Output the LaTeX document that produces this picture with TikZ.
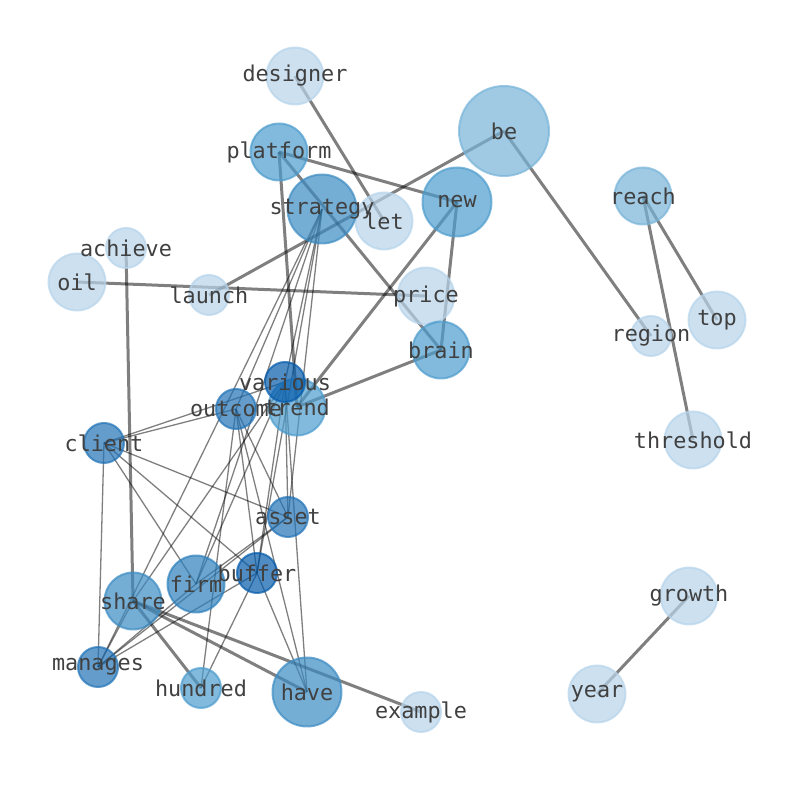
\documentclass[tikz,border=0pt]{standalone}
\usepackage{fontspec}
\newfontfamily\wordfont{DejaVu Sans Mono}
\usetikzlibrary{positioning}

\definecolor{blues1}{RGB}{182,211,234}
\definecolor{blues2}{RGB}{119,179,216}
\definecolor{blues3}{RGB}{76,156,205}
\definecolor{blues4}{RGB}{59,139,194}
\definecolor{blues5}{RGB}{45,128,188}
\definecolor{blues6}{RGB}{34,115,182}
\definecolor{blues7}{RGB}{5,91,171}
\definecolor{labelgray}{RGB}{64,64,64}

\pgfdeclarelayer{edges}
\pgfsetlayers{edges,main}

\begin{document}
\begin{tikzpicture}[x=0.5pt, y=-0.5pt]

% Styles
\tikzstyle{word} = [circle, inner sep=0pt, line width=1pt, fill opacity=0.7, draw opacity=0.7]
\tikzstyle{smallword} = [word, minimum size=20pt]
\tikzstyle{midword} = [word, minimum size=28.5pt]
\tikzstyle{bigword} = [word, minimum size=34.5pt]
\tikzstyle{hugeword} = [word, minimum size=45pt]
\tikzstyle{lvl1} = [fill=blues1, draw=blues1]
\tikzstyle{lvl2} = [fill=blues2, draw=blues2]
\tikzstyle{lvl3} = [fill=blues3, draw=blues3]
\tikzstyle{lvl4} = [fill=blues4, draw=blues4]
\tikzstyle{lvl5} = [fill=blues5, draw=blues5]
\tikzstyle{lvl6} = [fill=blues6, draw=blues6]
\tikzstyle{lvl7} = [fill=blues7, draw=blues7]
\tikzstyle{tag} = [font=\wordfont\fontsize{10.9}{13}\selectfont, text=labelgray, inner sep=0pt]
\tikzstyle{strong} = [line width=1.5pt, draw=black, draw opacity=0.5]
\tikzstyle{weak} = [line width=0.65pt, draw=black, draw opacity=0.5]

\useasboundingbox (0,0) rectangle (794,790);

% --- Nodes ---
\node (designer) [midword, lvl1] at (295,76) {};
\node (be) [hugeword, lvl2] at (504,131) {};
\node (platform) [midword, lvl3] at (279,152) {};
\node (let) [midword, lvl1] at (384,221) {};
\node (strategy) [bigword, lvl4] at (322,209) {};
\node (new) [bigword, lvl3] at (457,202) {};
\node (reach) [midword, lvl2] at (643,196) {};
\node (achieve) [smallword, lvl1] at (126,248) {};
\node (oil) [midword, lvl1] at (77,282) {};
\node (launch) [smallword, lvl1] at (209,295) {};
\node (price) [midword, lvl1] at (426,296) {};
\node (top) [midword, lvl1] at (717,320) {};
\node (region) [smallword, lvl1] at (651,336) {};
\node (brain) [midword, lvl3] at (441,350) {};
\node (trend) [midword, lvl3] at (297,407) {};
\node (various) [smallword, lvl7] at (285,382) {};
\node (outcome) [smallword, lvl6] at (236,409) {};
\node (client) [smallword, lvl6] at (104,443) {};
\node (threshold) [midword, lvl1] at (693,440) {};
\node (asset) [smallword, lvl6] at (288,517) {};
\node (firm) [midword, lvl5] at (196,584) {};
\node (buffer) [smallword, lvl7] at (257,573) {};
\node (share) [midword, lvl4] at (133,601) {};
\node (growth) [midword, lvl1] at (689,596) {};
\node (manages) [smallword, lvl6] at (98,667) {};
\node (hundred) [smallword, lvl3] at (201,688) {};
\node (have) [bigword, lvl4] at (307,692) {};
\node (example) [smallword, lvl1] at (421,712) {};
\node (year) [midword, lvl1] at (597,694) {};

% --- Labels ---
\node (designer-t) [tag] at (designer.center) {designer};
\node (be-t) [tag] at (be.center) {be};
\node (platform-t) [tag] at (platform.center) {platform};
\node (let-t) [tag] at (let.center) {let};
\node (strategy-t) [tag] at (strategy.center) {strategy};
\node (new-t) [tag] at (new.center) {new};
\node (reach-t) [tag] at (reach.center) {reach};
\node (achieve-t) [tag] at (achieve.center) {achieve};
\node (oil-t) [tag] at (oil.center) {oil};
\node (launch-t) [tag] at (launch.center) {launch};
\node (price-t) [tag] at (price.center) {price};
\node (top-t) [tag] at (top.center) {top};
\node (region-t) [tag] at (region.center) {region};
\node (brain-t) [tag] at (brain.center) {brain};
\node (trend-t) [tag] at (trend.center) {trend};
\node (various-t) [tag] at (various.center) {various};
\node (outcome-t) [tag] at (outcome.center) {outcome};
\node (client-t) [tag] at (client.center) {client};
\node (threshold-t) [tag] at (threshold.center) {threshold};
\node (asset-t) [tag] at (asset.center) {asset};
\node (firm-t) [tag] at (firm.center) {firm};
\node (buffer-t) [tag] at (buffer.center) {buffer};
\node (share-t) [tag] at (share.center) {share};
\node (growth-t) [tag] at (growth.center) {growth};
\node (manages-t) [tag] at (manages.center) {manages};
\node (hundred-t) [tag] at (hundred.center) {hundred};
\node (have-t) [tag] at (have.center) {have};
\node (example-t) [tag] at (example.center) {example};
\node (year-t) [tag] at (year.center) {year};

% --- Edges (under the nodes) ---
\begin{pgfonlayer}{edges}
% heavy links
\draw[strong] (designer.center) -- (let.center);
\draw[strong] (platform.center) -- (new.center);
\draw[strong] (platform.center) -- (brain.center);
\draw[strong] (platform.center) -- (trend.center);
\draw[strong] (be.center) -- (launch.center);
\draw[strong] (be.center) -- (region.center);
\draw[strong] (oil.center) -- (price.center);
\draw[strong] (achieve.center) -- (share.center);
\draw[strong] (new.center) -- (brain.center);
\draw[strong] (new.center) -- (trend.center);
\draw[strong] (brain.center) -- (trend.center);
\draw[strong] (reach.center) -- (top.center);
\draw[strong] (reach.center) -- (threshold.center);
\draw[strong] (growth.center) -- (year.center);
\draw[strong] (share.center) -- (have.center);
\draw[strong] (share.center) -- (example.center);
\draw[strong] (share.center) -- (hundred.center);
% light links
\draw[weak] (client.center) -- (various.center);
\draw[weak] (client.center) -- (outcome.center);
\draw[weak] (client.center) -- (asset.center);
\draw[weak] (client.center) -- (buffer.center);
\draw[weak] (client.center) -- (firm.center);
\draw[weak] (client.center) -- (manages.center);
\draw[weak] (outcome.center) -- (strategy.center);
\draw[weak] (outcome.center) -- (hundred.center);
\draw[weak] (outcome.center) -- (buffer.center);
\draw[weak] (outcome.center) -- (have.center);
\draw[weak] (outcome.center) -- (asset.center);
\draw[weak] (strategy.center) -- (various.center);
\draw[weak] (strategy.center) -- (asset.center);
\draw[weak] (strategy.center) -- (buffer.center);
\draw[weak] (strategy.center) -- (manages.center);
\draw[weak] (strategy.center) -- (firm.center);
\draw[weak] (various.center) -- (share.center);
\draw[weak] (various.center) -- (have.center);
\draw[weak] (various.center) -- (asset.center);
\draw[weak] (various.center) -- (buffer.center);
\draw[weak] (various.center) -- (firm.center);
\draw[weak] (manages.center) -- (share.center);
\draw[weak] (manages.center) -- (firm.center);
\draw[weak] (manages.center) -- (buffer.center);
\draw[weak] (manages.center) -- (asset.center);
\draw[weak] (buffer.center) -- (hundred.center);
\draw[weak] (buffer.center) -- (have.center);
\draw[weak] (firm.center) -- (asset.center);
\end{pgfonlayer}

\end{tikzpicture}
\end{document}
